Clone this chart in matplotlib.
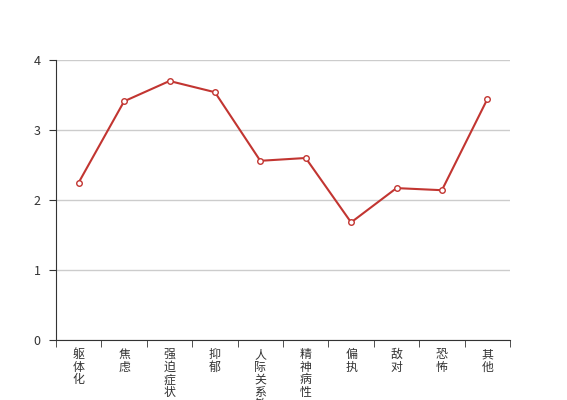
import matplotlib
matplotlib.use("Agg")
import numpy as np
import matplotlib.pyplot as plt
from matplotlib.ticker import FixedLocator

plt.rcParams['font.family'] = ['Noto Sans CJK SC', 'DejaVu Sans']

# data
categories = ["躯体化", "焦虑", "强迫症状", "抑郁", "人际关系敏感",
              "精神病性", "偏执", "敌对", "恐怖", "其他"]
values = [2.25, 3.41, 3.70, 3.54, 2.56, 2.60, 1.68, 2.17, 2.14, 3.44]
y_ticks = [0, 1, 2, 3, 4]

fig = plt.figure(figsize=(5.67, 4.0), dpi=100)
ax = fig.add_axes([56 / 567, 1 - 340 / 400, 454 / 567, 280 / 400])

x = np.arange(len(categories))
ax.plot(x, values, color="#c23531", lw=1.5, marker="o", ms=4,
        mfc="white", mec="#c23531", mew=1, zorder=3, clip_on=False)

ax.set_xlim(-0.5, len(categories) - 0.5)
ax.set_ylim(0, 4)
ax.set_yticks(y_ticks)
ax.yaxis.grid(True, color="#cccccc", lw=1)
ax.set_axisbelow(True)

# category labels written top-to-bottom
ax.set_xticks(x)
ax.set_xticklabels(["\n".join(c) for c in categories], va="top",
                   linespacing=0.95)
ax.xaxis.set_minor_locator(FixedLocator(np.arange(-0.5, len(categories), 1.0)))
ax.tick_params(axis="x", which="major", length=0, pad=6, labelsize=8.6,
               labelcolor="#333333")
ax.tick_params(axis="x", which="minor", length=5, color="#333333")
ax.tick_params(axis="y", length=5, color="#333333", labelsize=9,
               labelcolor="#333333", pad=6)

for s in ["top", "right"]:
    ax.spines[s].set_visible(False)
for s in ["left", "bottom"]:
    ax.spines[s].set_color("#333333")

fig.savefig("out.png", dpi=100)
